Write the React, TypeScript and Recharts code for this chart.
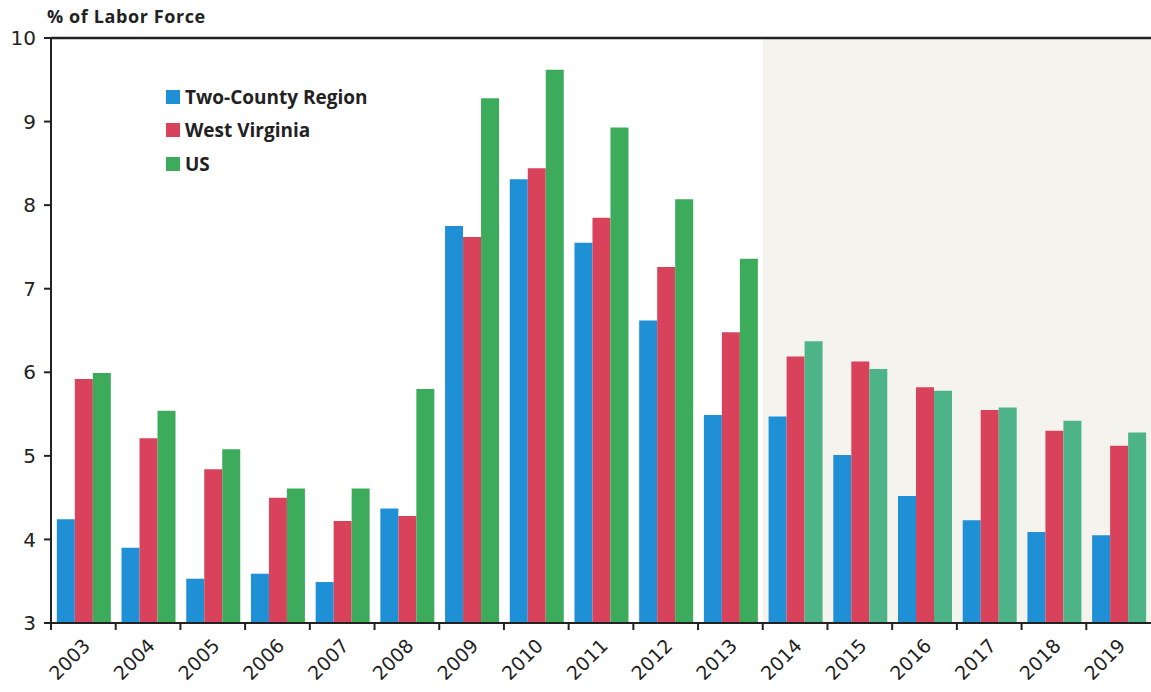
import React from "react";
import {
  BarChart,
  Bar,
  XAxis,
  YAxis,
  Legend,
  ReferenceLine,
  ReferenceArea,
  Cell,
} from "recharts";

// Unemployment rate, % of labor force
const years = [
  "2003", "2004", "2005", "2006", "2007", "2008", "2009", "2010", "2011",
  "2012", "2013", "2014", "2015", "2016", "2017", "2018", "2019",
];
const twoCounty = [
  4.24, 3.9, 3.53, 3.59, 3.49, 4.37, 7.75, 8.31, 7.55, 6.62, 5.49, 5.47, 5.01,
  4.52, 4.23, 4.09, 4.05,
];
const westVirginia = [
  5.92, 5.21, 4.84, 4.5, 4.22, 4.28, 7.62, 8.44, 7.85, 7.26, 6.48, 6.19, 6.13,
  5.82, 5.55, 5.3, 5.12,
];
const us = [
  5.99, 5.54, 5.08, 4.61, 4.61, 5.8, 9.28, 9.62, 8.93, 8.07, 7.36, 6.37, 6.04,
  5.78, 5.58, 5.42, 5.28,
];
const yTicks = [3, 4, 5, 6, 7, 8, 9, 10];
const seriesNames = ["Two-County Region", "West Virginia", "US"];

const data = years.map((year, i) => ({
  year,
  region: twoCounty[i],
  wv: westVirginia[i],
  us: us[i],
}));

const WIDTH = 1151;
const HEIGHT = 692;
const LEFT = 51;
const TOP = 38;
const X_AXIS_H = 69;
const BAND = (WIDTH - LEFT) / years.length;

const BLUE = "#1f8fd6";
const RED = "#d8435b";
const GREEN = "#3dab5c";
const GREEN_LATE = "#4db487";
const SHADE_FROM = "2014";

const tickFont = "'DejaVu Sans', 'Liberation Sans', sans-serif";
const labelFont = "'Open Sans', 'Noto Sans', sans-serif";

// Year labels centred under each group, with tick marks on the group boundaries
const YearTick = (props: any) => {
  const { x, y, payload } = props;
  const lx = x + 8;
  const ly = y + 24;
  return (
    <g>
      <line
        x1={x - BAND / 2}
        x2={x - BAND / 2}
        y1={y}
        y2={y + 7}
        stroke="#222"
        strokeWidth={2}
      />
      <text
        x={lx}
        y={ly}
        textAnchor="end"
        fontFamily={tickFont}
        fontSize={19}
        fill="#222"
        transform={`rotate(-45, ${lx}, ${ly})`}
      >
        {payload.value}
      </text>
    </g>
  );
};

const legendColors = [BLUE, RED, GREEN];

const LegendBox = () => (
  <div style={{ display: "flex", flexDirection: "column" }}>
    {seriesNames.map((name, i) => (
      <div
        key={name}
        style={{
          display: "flex",
          alignItems: "center",
          height: 33.5,
        }}
      >
        <span
          style={{
            display: "inline-block",
            width: 14,
            height: 14,
            background: legendColors[i],
            marginRight: 5,
          }}
        />
        <span
          style={{
            fontFamily: labelFont,
            fontWeight: 700,
            fontSize: 19,
            color: "#222",
          }}
        >
          {name}
        </span>
      </div>
    ))}
  </div>
);

export default function App() {
  return (
    <div
      style={{
        position: "absolute",
        left: 0,
        top: 0,
        width: WIDTH,
        height: HEIGHT,
        background: "#fff",
      }}
    >
      <div
        style={{
          position: "absolute",
          left: 47,
          top: 4,
          fontFamily: labelFont,
          fontWeight: 700,
          fontSize: 18,
          letterSpacing: 0.6,
          color: "#222",
          zIndex: 2,
        }}
      >
        % of Labor Force
      </div>
      <BarChart
        width={WIDTH}
        height={HEIGHT}
        data={data}
        margin={{ top: TOP, right: 0, bottom: 0, left: 0 }}
        barCategoryGap="9%"
        barGap={0}
      >
        <ReferenceArea
          x1={SHADE_FROM}
          x2={years[years.length - 1]}
          y1={3}
          y2={10}
          fill="#f5f3ee"
          fillOpacity={1}
          stroke="none"
        />
        <XAxis
          dataKey="year"
          height={X_AXIS_H}
          interval={0}
          tickLine={false}
          tickSize={0}
          tickMargin={0}
          axisLine={{ stroke: "#222", strokeWidth: 2 }}
          tick={<YearTick />}
        />
        <YAxis
          width={LEFT}
          domain={[3, 10]}
          ticks={yTicks}
          interval={0}
          allowDataOverflow
          tickSize={7}
          tickMargin={8}
          tickLine={{ stroke: "#222", strokeWidth: 2 }}
          axisLine={{ stroke: "#222", strokeWidth: 2 }}
          tick={{ fontFamily: tickFont, fontSize: 20, fill: "#222" }}
        />
        <ReferenceLine y={10} stroke="#222" strokeWidth={2.5} />
        <Legend
          layout="vertical"
          verticalAlign="middle"
          align="center"
          content={<LegendBox />}
          wrapperStyle={{ left: 166, top: 80, width: 260 }}
        />
        <Bar
          dataKey="region"
          name={seriesNames[0]}
          fill={BLUE}
          isAnimationActive={false}
        />
        <Bar
          dataKey="wv"
          name={seriesNames[1]}
          fill={RED}
          isAnimationActive={false}
        />
        <Bar
          dataKey="us"
          name={seriesNames[2]}
          fill={GREEN}
          isAnimationActive={false}
        >
          {data.map((d) => (
            <Cell
              key={d.year}
              fill={Number(d.year) >= Number(SHADE_FROM) ? GREEN_LATE : GREEN}
            />
          ))}
        </Bar>
      </BarChart>
    </div>
  );
}
